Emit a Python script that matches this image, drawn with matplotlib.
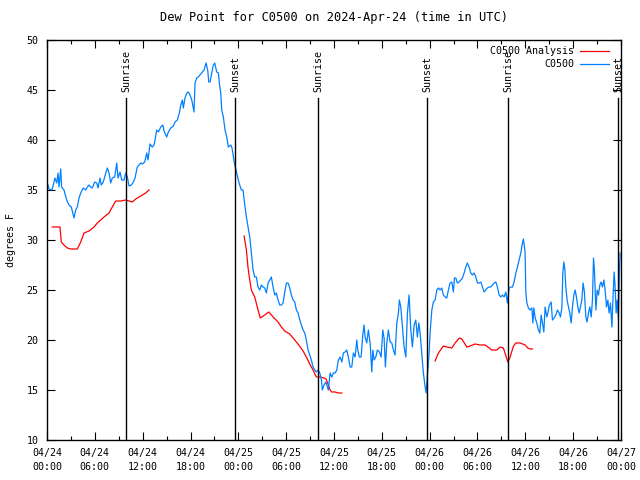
import numpy as np
import matplotlib
matplotlib.use("Agg")
import matplotlib.pyplot as plt
from matplotlib.ticker import MultipleLocator

# hours since 2024-04-24 00:00 UTC
obs_hours = [
    0.13, 0.25, 0.63, 1.00, 1.22, 1.38, 1.51, 1.72, 1.84, 2.13, 2.47, 2.76, 3.05, 3.39, 3.60, 3.80,
    4.02, 4.23, 4.55, 4.86, 5.06, 5.27, 5.48, 5.68, 5.98, 6.24, 6.40, 6.65, 6.81, 7.06, 7.37, 7.57,
    7.78, 7.99, 8.19, 8.49, 8.75, 8.91, 9.16, 9.37, 9.66, 9.87, 10.08, 10.29, 10.58, 10.83, 11.04,
    11.33, 11.54, 11.76, 11.96, 12.26, 12.51, 12.67, 12.92, 13.21, 13.43, 13.55, 13.76, 13.97,
    14.27, 14.52, 14.72, 15.02, 15.22, 15.52, 15.85, 16.06, 16.35, 16.60, 16.78, 16.98, 17.10,
    17.31, 17.53, 17.73, 17.94, 18.16, 18.28, 18.44, 18.57, 18.78, 18.98, 19.19, 19.41, 19.70,
    19.95, 20.16, 20.29, 20.45, 20.66, 20.87, 21.04, 21.29, 21.49, 21.62, 21.79, 21.92, 22.12,
    22.33, 22.55, 22.75, 23.05, 23.21, 23.50, 23.80, 24.09, 24.38, 24.59, 24.81, 25.01, 25.22,
    25.43, 25.63, 25.85, 26.06, 26.26, 26.47, 26.69, 26.89, 27.10, 27.31, 27.52, 27.73, 27.94,
    28.14, 28.36, 28.57, 28.77, 28.98, 29.20, 29.40, 29.61, 29.82, 30.03, 30.24, 30.45, 30.65,
    30.87, 31.08, 31.28, 31.49, 31.71, 31.91, 32.12, 32.33, 32.53, 32.75, 32.96, 33.16, 33.37,
    33.59, 33.79, 34.00, 34.22, 34.42, 34.54, 34.75, 34.97, 35.17, 35.29, 35.51, 35.72, 35.92,
    36.14, 36.35, 36.55, 36.76, 36.98, 37.18, 37.39, 37.60, 37.80, 38.02, 38.23, 38.43, 38.64,
    38.86, 38.98, 39.18, 39.40, 39.61, 39.77, 39.90, 40.11, 40.31, 40.53, 40.74, 40.87, 41.03,
    41.24, 41.44, 41.69, 41.91, 42.12, 42.28, 42.45, 42.62, 42.82, 43.04, 43.25, 43.45, 43.66,
    43.88, 44.08, 44.20, 44.38, 44.58, 44.79, 45.01, 45.21, 45.42, 45.63, 45.83, 46.05, 46.26,
    46.46, 46.64, 46.80, 47.01, 47.21, 47.43, 47.55, 47.77, 47.93, 48.05, 48.27, 48.47, 48.68,
    48.90, 49.10, 49.31, 49.52, 49.72, 49.94, 50.15, 50.35, 50.56, 50.78, 50.98, 51.10, 51.28,
    51.48, 51.69, 51.91, 52.11, 52.32, 52.53, 52.73, 52.95, 53.16, 53.36, 53.58, 53.79, 53.99,
    54.20, 54.42, 54.62, 54.83, 55.04, 55.24, 55.46, 55.67, 55.87, 56.09, 56.30, 56.50, 56.71,
    56.93, 57.13, 57.34, 57.55, 57.75, 57.97, 58.18, 58.38, 58.59, 58.81, 59.01, 59.22, 59.43,
    59.64, 59.76, 59.89, 59.97, 60.06, 60.19, 60.39, 60.60, 60.82, 60.94, 61.07, 61.23, 61.44,
    61.64, 61.82, 61.98, 62.15, 62.32, 62.48, 62.70, 62.82, 63.02, 63.24, 63.40, 63.61, 63.83,
    64.03, 64.24, 64.40, 64.58, 64.70, 64.83, 64.96, 65.08, 65.24, 65.41, 65.58, 65.75, 65.91,
    66.09, 66.25, 66.41, 66.59, 66.75, 66.91, 67.09, 67.25, 67.41, 67.59, 67.75, 67.92, 68.09,
    68.26, 68.42, 68.55, 68.67, 68.85, 69.01, 69.17, 69.35, 69.51, 69.67, 69.85, 70.01, 70.18,
    70.35, 70.51, 70.68, 70.86, 71.02, 71.14, 71.27, 71.39, 71.52, 71.68, 71.81, 71.89,
]
obs_dewpt = [
    35.5, 35.1, 35.0, 36.2, 35.7, 36.7, 35.3, 37.1, 35.3, 35.0, 34.0, 33.5, 33.3, 32.2, 33.0, 33.3,
    34.2, 34.7, 35.2, 35.0, 35.3, 35.5, 35.3, 35.2, 35.8, 35.7, 35.2, 36.2, 35.5, 35.8, 36.7, 37.2,
    36.7, 35.7, 36.2, 36.3, 37.7, 36.2, 36.8, 36.0, 36.0, 36.7, 36.3, 35.4, 35.5, 35.8, 36.2,
    37.3, 37.5, 37.7, 37.6, 37.8, 38.7, 38.0, 39.6, 39.3, 39.5, 40.0, 41.0, 40.8,
    41.3, 41.5, 40.8, 40.3, 40.8, 41.2, 41.4, 41.8, 42.0, 42.7, 43.5, 44.0, 43.2,
    44.2, 44.7, 44.8, 44.5, 44.0, 43.5, 42.8, 45.7, 46.2, 46.3, 46.5, 46.7, 47.0,
    47.7, 47.0, 45.8, 45.8, 46.7, 47.5, 47.7, 46.8, 46.7, 45.7, 44.7, 43.0, 42.3,
    41.0, 40.3, 39.3, 39.5, 39.2, 37.7, 36.7, 35.7, 35.0, 35.0, 33.5, 32.3, 31.3,
    30.3, 28.7, 27.0, 26.3, 26.3, 25.3, 25.0, 25.5, 25.3, 25.2, 24.7, 25.7, 26.0,
    26.3, 25.3, 24.5, 24.7, 24.0, 23.5, 23.5, 23.7, 24.8, 25.7, 25.7, 25.2, 24.5,
    24.0, 23.8, 23.0, 22.7, 22.0, 21.5, 21.0, 20.7, 20.0, 19.0, 18.5, 18.0, 17.3,
    17.0, 16.8, 17.0, 16.7, 16.0, 15.0, 15.5, 15.8, 15.3, 15.0, 16.7, 16.3, 16.7,
    16.7, 17.0, 18.0, 18.3, 17.8, 18.7, 18.8, 19.0, 18.3, 17.3, 17.3, 18.7, 18.3,
    20.0, 19.0, 18.3, 18.3, 20.5, 21.5, 20.3, 19.7, 21.0, 19.7, 16.8, 19.0, 18.0,
    18.3, 19.0, 18.8, 18.3, 21.0, 20.2, 17.3, 19.7, 21.0, 19.8, 19.7, 19.0, 18.5,
    21.7, 22.7, 24.0, 23.3, 21.3, 19.3, 18.3, 22.7, 24.5, 21.0, 19.3, 21.5, 22.0,
    20.3, 21.7, 20.7, 18.7, 16.7, 15.3, 14.7, 17.0, 18.7, 20.7, 23.0, 23.8, 24.0,
    25.0, 25.2, 25.0, 25.2, 24.5, 24.3, 24.2, 25.0, 25.7, 25.8, 24.8, 26.2, 26.2,
    25.7, 25.8, 26.0, 26.2, 26.7, 27.3, 27.7, 27.3, 26.7, 26.5, 26.7, 26.3, 25.7,
    25.7, 25.8, 25.3, 24.8, 25.0, 25.2, 25.3, 25.3, 25.5, 25.7, 25.8, 25.3, 24.5,
    24.3, 24.5, 24.3, 24.8, 23.7, 25.2, 25.3, 25.3, 25.8, 26.7, 27.3, 28.0, 28.7,
    29.7, 30.1, 29.3, 28.8, 24.8, 23.7, 23.2, 23.0, 23.2, 21.7, 23.2, 22.2, 21.7,
    21.0, 20.7, 22.5, 21.7, 20.8, 23.3, 22.3, 22.7, 23.5, 23.8, 22.0, 22.2, 22.5,
    23.0, 22.7, 22.3, 23.2, 26.7, 27.8, 27.0, 25.3, 24.0, 23.3, 22.7, 21.7, 23.3,
    24.5, 25.0, 24.3, 23.3, 22.7, 23.3, 24.0, 25.7, 24.8, 22.3, 21.8, 22.7, 23.3,
    22.3, 24.0, 28.2, 27.0, 23.0, 25.0, 24.5, 25.5, 25.8, 25.3, 26.0, 25.0, 23.3,
    24.0, 22.7, 23.7, 21.3, 24.7, 26.8, 25.2, 22.7, 24.0, 22.2, 27.0, 28.7,
]

# analysis series (nan = gap)
ana_hours = [
    0.66, 1.63, 1.79, 2.13, 2.55, 2.97, 3.80, 4.23, 4.64, 5.27, 5.90, 6.31, 6.74, 7.15, 7.78,
    8.19, 8.62, 9.25, 9.87, 10.29, 10.70, 11.13, 11.76, 12.38, 12.80,
    18.0,
    24.72, 25.01, 25.22, 25.43, 25.63, 26.06, 26.47, 26.76, 27.31, 27.82, 28.36, 28.98, 29.40,
    29.82, 30.45, 31.08, 31.58, 32.12, 32.53, 32.96, 33.37, 33.79, 34.25, 34.75, 35.01, 35.29,
    35.51, 35.72, 36.14, 36.55, 36.98,
    42.0,
    48.68, 49.10, 49.72, 50.15, 50.78, 51.19, 51.73, 52.03, 52.66, 53.07, 53.70, 54.33, 54.96,
    55.80, 56.42, 56.84, 57.25, 57.80, 58.09, 58.51, 58.81, 59.35, 59.97, 60.31, 60.60, 60.89,
]
ana_dewpt = [
    31.3, 31.3, 29.8, 29.5, 29.2, 29.1, 29.1, 29.8, 30.7, 30.9, 31.3, 31.7, 32.0, 32.3, 32.7,
    33.3, 33.9, 33.9, 34.0, 33.9, 33.8, 34.1, 34.4, 34.7, 35.0,
    np.nan,
    30.4, 29.0, 27.2, 26.0, 25.0, 24.3, 23.0, 22.2, 22.5, 22.8, 22.3, 21.8, 21.3,
    20.9, 20.6, 20.0, 19.5, 18.9, 18.3, 17.6, 17.0, 16.3, 16.3, 16.2, 16.1, 15.5,
    15.0, 14.8, 14.8, 14.7, 14.7,
    np.nan,
    17.9, 18.7, 19.4, 19.3, 19.2, 19.7, 20.2, 20.1, 19.3, 19.4, 19.6, 19.5, 19.5,
    19.0, 19.0, 19.3, 19.2, 17.8, 18.3, 19.4, 19.7, 19.7, 19.5, 19.2, 19.1, 19.1,
]

sun_hours = [9.91, 23.59, 34.00, 47.68, 57.84, 71.64]
sun_names = ["Sunrise", "Sunset", "Sunrise", "Sunset", "Sunrise", "Sunset"]

tick_hours = list(range(0, 73, 6))
tick_labels = ["04/24\n00:00", "04/24\n06:00", "04/24\n12:00", "04/24\n18:00",
               "04/25\n00:00", "04/25\n06:00", "04/25\n12:00", "04/25\n18:00",
               "04/26\n00:00", "04/26\n06:00", "04/26\n12:00", "04/26\n18:00",
               "04/27\n00:00"]

plt.rcParams["font.family"] = ["DejaVu Sans Mono"]
plt.rcParams["font.size"] = 7.2

fig = plt.figure(figsize=(6.4, 4.8), dpi=100)
ax = fig.add_axes([47 / 640, 40 / 480, 574 / 640, 400 / 480])

ax.plot(ana_hours, ana_dewpt, color="#ff0000", lw=0.9, label="C0500 Analysis")
ax.plot(obs_hours, obs_dewpt, color="#0080ff", lw=0.9, label="C0500")

for h, name in zip(sun_hours, sun_names):
    ax.axvline(h, ymin=0, ymax=(44.2 - 10) / 40, color="black", lw=1)
    ax.text(h, 44.8, name, rotation=90, ha="center", va="bottom")

ax.set_xlim(0, 72)
ax.set_ylim(10, 50)
ax.set_xticks(tick_hours)
ax.set_xticklabels(tick_labels, linespacing=1.5)
ax.xaxis.set_minor_locator(MultipleLocator(3))
ax.yaxis.set_major_locator(MultipleLocator(5))
ax.tick_params(which="both", direction="in", top=True, right=True, width=0.8, pad=6)
ax.tick_params(which="major", length=6)
ax.tick_params(which="minor", length=3)
for s in ax.spines.values():
    s.set_linewidth(1)

ax.set_ylabel("degrees F", labelpad=8)
ax.set_title("Dew Point for C0500 on 2024-Apr-24 (time in UTC)", pad=14)

ax.legend(loc="upper right", bbox_to_anchor=(0.993, 1.005), frameon=False, markerfirst=False,
          handlelength=2.9, handletextpad=0.6, labelspacing=0.3, borderpad=0.3)

fig.savefig("out.png", dpi=100)
